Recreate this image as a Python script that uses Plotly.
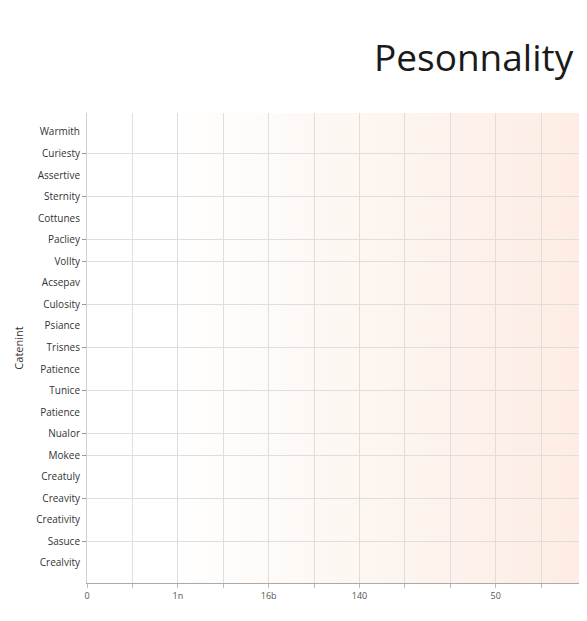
import base64
import plotly.graph_objects as go

# row labels, top to bottom
traits = ["Warmith", "Curiesty", "Assertive", "Sternity", "Cottunes", "Pacliey",
          "Vollty", "Acsepav", "Culosity", "Psiance", "Trisnes", "Patience",
          "Tunice", "Patience", "Nualor", "Mokee", "Creatuly", "Creavity",
          "Creativity", "Sasuce", "Crealvity"]
# rows that carry a tick mark and a grid line
ticked_traits = [1, 3, 5, 6, 8, 10, 12, 14, 15, 17, 19]

x_ticks = [0, 1, 2, 3, 4, 5, 6, 7, 8, 9, 10, 11]
x_tick_text = ["0", "", "1n", "", "16b", "", "140", "", "", "50", "", "2x"]

y_pos = list(range(len(traits)))

# soft white -> peach wash behind the grid
svg = ("<svg xmlns='http://www.w3.org/2000/svg' width='100' height='100' "
       "preserveAspectRatio='none'><defs><linearGradient id='g'>"
       "<stop offset='0' stop-color='#ffffff'/>"
       "<stop offset='0.17' stop-color='#ffffff'/>"
       "<stop offset='0.55' stop-color='#fdf6f1'/>"
       "<stop offset='1' stop-color='#fdece3'/>"
       "</linearGradient></defs>"
       "<rect width='100' height='100' fill='url(#g)'/></svg>")
bg_src = "data:image/svg+xml;base64," + base64.b64encode(svg.encode()).decode()

fig = go.Figure()
fig.add_trace(go.Scatter(x=[], y=[], showlegend=False))
fig.add_trace(go.Scatter(x=[], y=[], yaxis="y2", showlegend=False))

y_range = [len(traits) - 1 + 0.93, -0.88]
font = "Open Sans, Noto Sans, sans-serif"

# page body has an 8px margin, so keep the figure inside the window
fig.update_layout(
    width=579, height=605,
    margin=dict(l=79, r=0, t=105, b=30),
    paper_bgcolor="white",
    plot_bgcolor="rgba(0,0,0,0)",
    font=dict(family=font, color="#444", size=10),
    title=dict(text="Pesonnality", xref="container", x=(374 - 8) / 579,
               xanchor="left", yref="container", y=1 - 37 / 605,
               yanchor="top",
               font=dict(size=37, color="#1a1a1a", family=font)),
    xaxis=dict(range=[0, 11.01], tickvals=x_ticks, ticktext=x_tick_text,
               showgrid=True, gridcolor="#dedede", gridwidth=1,
               ticks="outside", ticklen=4, tickcolor="#bbb",
               showline=True, linecolor="#aaa", zeroline=False,
               tickfont=dict(size=9, color="#555")),
    yaxis=dict(range=y_range, tickvals=y_pos, ticktext=traits,
               showgrid=False, ticks="outside", ticklen=4,
               tickcolor="rgba(0,0,0,0)", showline=True, linecolor="#d0d0d0",
               zeroline=False, tickfont=dict(size=10, color="#333"),
               title=dict(text="Catenint", font=dict(size=11, color="#333"),
                          standoff=10)),
    yaxis2=dict(range=y_range, overlaying="y", side="left",
                tickvals=ticked_traits, showticklabels=False,
                showgrid=True, gridcolor="#dedede", gridwidth=1,
                ticks="outside", ticklen=4, tickcolor="#999", zeroline=False),
    images=[dict(source=bg_src, xref="x domain", yref="y domain", x=0, y=1,
                 sizex=1, sizey=1, sizing="stretch", xanchor="left",
                 yanchor="top", layer="below")],
)

fig.write_html("out.html")
